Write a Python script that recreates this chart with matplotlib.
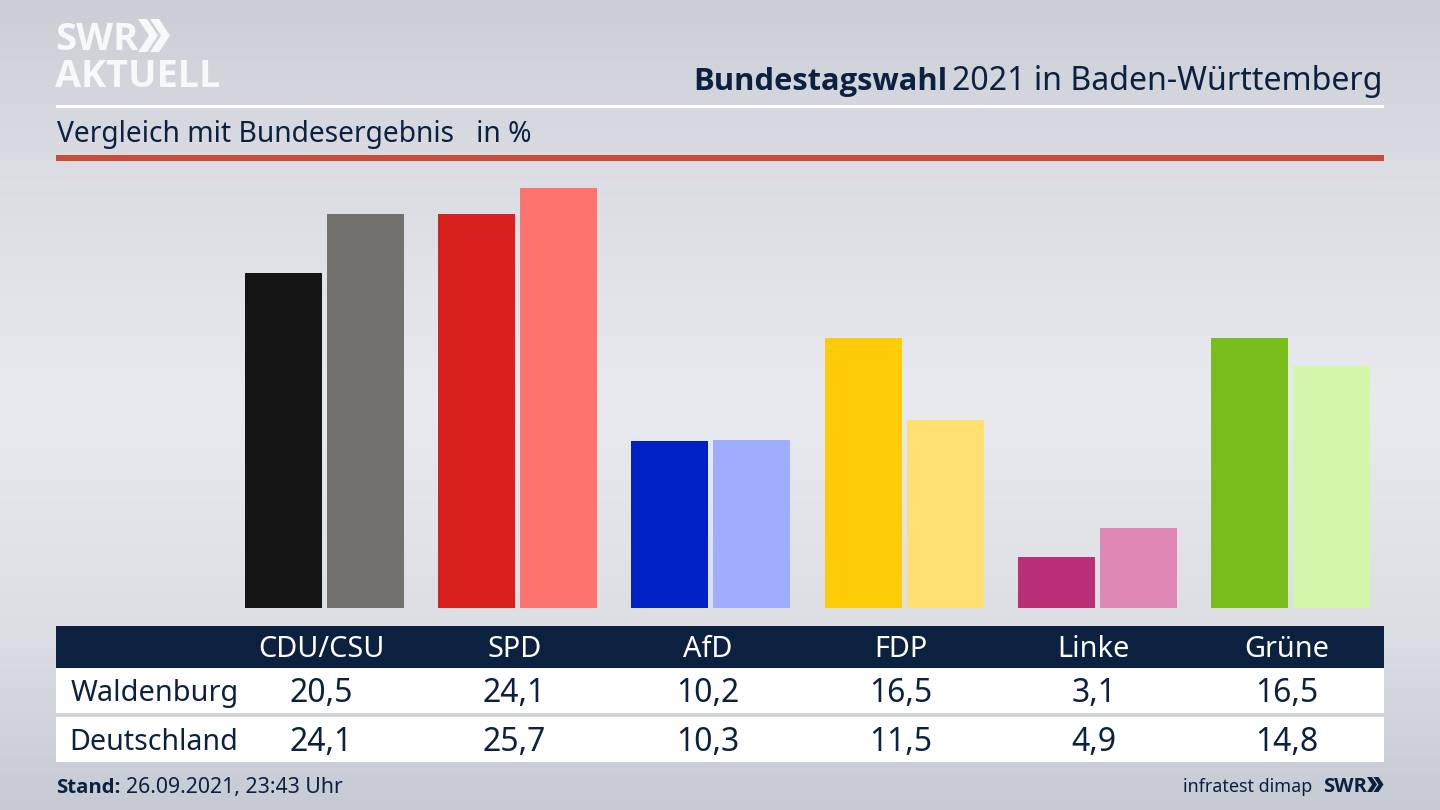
import numpy as np
import matplotlib
matplotlib.use("Agg")
import matplotlib.pyplot as plt
from matplotlib.colors import LinearSegmentedColormap
from matplotlib.patches import Polygon, Rectangle

parties = ["CDU/CSU", "SPD", "AfD", "FDP", "Linke", "Grüne"]
waldenburg = [20.5, 24.1, 10.2, 16.5, 3.1, 16.5]
deutschland = [24.1, 25.7, 10.3, 11.5, 4.9, 14.8]
colors_wb = ["#141414", "#d8201e", "#0021c4", "#ffcc0a", "#bb2f78", "#78bd1c"]
colors_de = ["#72716e", "#ff736e", "#9fadff", "#ffdf70", "#df88b6", "#d3f6a8"]

NAVY = "#0c2140"
LOGO = "#f7f8f9"
W, H = 1440, 810
plt.rcParams["font.family"] = ["Noto Sans", "DejaVu Sans"]


def px_axes(fig, x0, y0, x1, y1):
    return fig.add_axes([x0 / W, 1 - y1 / H, (x1 - x0) / W, (y1 - y0) / H])


def chevron(ax, x, top, bottom, arm, thick, color):
    mid = (top + bottom) / 2
    pts = [(x, top), (x + thick, top), (x + thick + arm, mid),
           (x + thick, bottom), (x, bottom), (x + arm, mid)]
    ax.add_patch(Polygon(pts, closed=True, color=color, lw=0))


def draw_background(fig):
    bg = fig.add_axes([0, 0, 1, 1])
    cmap = LinearSegmentedColormap.from_list(
        "bg", [(0, "#cbced6"), (0.2, "#dadce2"), (0.5, "#e9eaef"), (0.78, "#dcdee4"), (1, "#c6cad3")])
    grad = np.linspace(0, 1, 256).reshape(-1, 1)
    bg.imshow(grad, aspect="auto", cmap=cmap, extent=(0, W, H, 0), vmin=0, vmax=1)
    bg.set_xlim(0, W)
    bg.set_ylim(H, 0)
    bg.axis("off")

    # header furniture
    bg.add_patch(Rectangle((56, 104.5), 1328, 3, color="white", lw=0))
    bg.add_patch(Rectangle((56, 155), 1328, 5.5, color="#cb4b3a", lw=0))
    bg.text(55, 50, "SWR", fontsize=27.5, fontweight="bold", color=LOGO, va="baseline", family="Open Sans")
    bg.text(55, 87, "AKTUELL", fontsize=27.2, fontweight="bold", color=LOGO, va="baseline", family="Open Sans")
    chevron(bg, 138, 19, 52, 11, 9, LOGO)
    chevron(bg, 150, 19, 52, 11, 9, LOGO)
    bg.text(693, 90, "Bundestagswahl", fontsize=22.2, fontweight="bold", color=NAVY, va="baseline", family="Open Sans")
    bg.text(1383, 90, "2021 in Baden-Württemberg", fontsize=23.1, color=NAVY, ha="right", va="baseline")
    bg.text(57, 142, "Vergleich mit Bundesergebnis   in %", fontsize=20.3, color=NAVY, va="baseline")

    # footer
    bg.text(56, 793, "Stand:", fontsize=14.7, fontweight="bold", color=NAVY, va="baseline", family="Open Sans")
    bg.text(126, 793, "26.09.2021, 23:43 Uhr", fontsize=15.3, color=NAVY, va="baseline")
    bg.text(1312, 792, "infratest dimap", fontsize=12.9, color=NAVY, ha="right", va="baseline")
    bg.text(1323, 792, "SWR", fontsize=14.5, fontweight="bold", color=NAVY, va="baseline", family="Open Sans")
    chevron(bg, 1367, 777, 792, 5, 5, NAVY)
    chevron(bg, 1373.5, 777, 792, 5, 5, NAVY)
    return bg


def draw_bars(fig):
    ax = px_axes(fig, 56, 165, 1384, 608)
    ax.patch.set_alpha(0)
    x = np.arange(len(parties))
    ax.bar(x - 0.2122, waldenburg, width=0.3986, color=colors_wb)
    ax.bar(x + 0.2122, deutschland, width=0.3986, color=colors_de)
    ax.set_xlim(-1.390, 5.484)
    ax.set_ylim(0, 27.1)
    ax.axis("off")
    return ax


def draw_table(fig, bar_ax):
    tb = px_axes(fig, 56, 626, 1384, 762)
    tb.patch.set_alpha(0)
    tb.set_xlim(bar_ax.get_xlim())
    tb.set_ylim(136, 0)
    tb.axis("off")
    xmin, xmax = tb.get_xlim()
    span = xmax - xmin
    tb.add_patch(Rectangle((xmin, 0), span, 42, color=NAVY, lw=0))
    tb.add_patch(Rectangle((xmin, 42), span, 45, color="white", lw=0))
    tb.add_patch(Rectangle((xmin, 91), span, 45, color="white", lw=0))
    label_x = xmin + 15 / 193.2
    tb.text(label_x, 75, "Waldenburg", fontsize=20.8, color=NAVY, va="baseline")
    tb.text(label_x - 1.5 / 193.2, 124, "Deutschland", fontsize=20.6, color=NAVY, va="baseline")
    for i, name in enumerate(parties):
        cx = i - 0.018
        tb.text(cx, 31, name, fontsize=20.8, color="white", ha="center", va="baseline")
        tb.text(cx, 76, f"{waldenburg[i]:.1f}".replace(".", ","), fontsize=23, color=NAVY, ha="center", va="baseline")
        tb.text(cx, 125, f"{deutschland[i]:.1f}".replace(".", ","), fontsize=23, color=NAVY, ha="center", va="baseline")


def main():
    fig = plt.figure(figsize=(14.4, 8.1), dpi=100)
    draw_background(fig)
    bar_ax = draw_bars(fig)
    draw_table(fig, bar_ax)
    fig.savefig("out.png", dpi=100)


if __name__ == "__main__":
    main()
